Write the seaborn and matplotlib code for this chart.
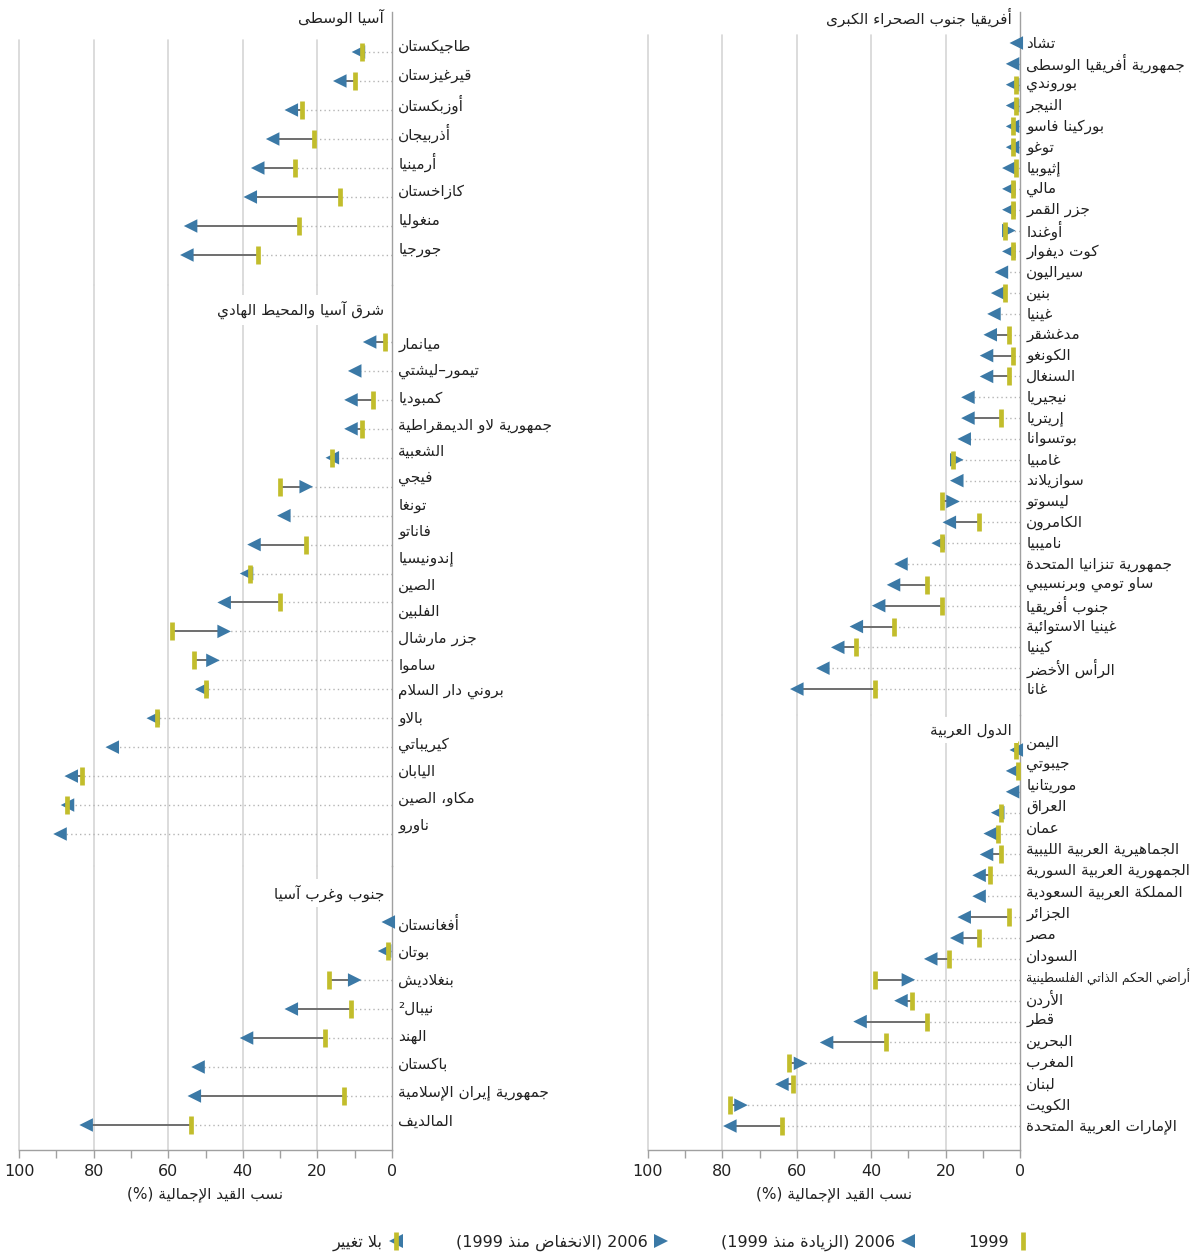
import re
import numpy as np
import pandas as pd
import matplotlib
matplotlib.use("Agg")
import matplotlib.pyplot as plt
import seaborn as sns
from matplotlib.lines import Line2D
from matplotlib.legend_handler import HandlerTuple
from matplotlib.transforms import blended_transform_factory

# ---------------------------------------------------------------- data
ca_names = ["طاجيكستان", "قيرغيزستان", "أوزبكستان", "أذربيجان", "أرمينيا",
            "كازاخستان", "منغوليا", "جورجيا"]
ca_1999 = [8, 10, 24, 21, 26, 14, 25, 36]
ca_2006 = [9, 14, 27, 32, 36, 38, 54, 55]

ea_names = ["ميانمار", "تيمور–ليشتي", "كمبوديا",
            "جمهورية لاو الديمقراطية\nالشعبية", "فيجي", "تونغا", "فاناتو",
            "إندونيسيا", "الصين", "الفلبين", "جزر مارشال", "ساموا",
            "بروني دار السلام", "بالاو", "كيريباتي", "اليابان", "مكاو، الصين",
            "ناورو"]
ea_1999 = [2, None, 5, 8, 16, 30, None, 23, 38, 30, 59, 53, 50, 63, None, 83, 87, None]
ea_2006 = [6, 10, 11, 11, 16, 23, 29, 37, 39, 45, 45, 48, 51, 64, 75, 86, 87, 89]

sa_names = ["أفغانستان", "بوتان", "بنغلاديش", "نيبال²", "الهند", "باكستان",
            "جمهورية إيران الإسلامية", "المالديف"]
sa_1999 = [None, 1, 17, 11, 18, None, 13, 54]
sa_2006 = [1, 2, 10, 27, 39, 52, 53, 82]

af_names = ["تشاد", "جمهورية أفريقيا الوسطى", "بوروندي", "النيجر", "بوركينا فاسو",
            "توغو", "إثيوبيا", "مالي", "جزر القمر", "أوغندا", "كوت ديفوار",
            "سيراليون", "بنين", "غينيا", "مدغشقر", "الكونغو", "السنغال",
            "نيجيريا", "إريتريا", "بوتسوانا", "غامبيا", "سوازيلاند", "ليسوتو",
            "الكامرون", "ناميبيا", "جمهورية تنزانيا المتحدة", "ساو تومي وبرنسيبي",
            "جنوب أفريقيا", "غينيا الاستوائية", "كينيا", "الرأس الأخضر", "غانا"]
af_1999 = [None, None, 1, 1, 2, 2, 1, 2, 2, 4, 2, None, 4, None, 3, 2, 3,
           None, 5, None, 18, None, 21, 11, 21, None, 25, 21, 34, 44, None, 39]
af_2006 = [1, 2, 2, 2, 2, 2, 3, 3, 3, 3, 3, 5, 6, 7, 8, 9, 9,
           14, 14, 15, 17, 17, 18, 19, 22, 32, 34, 38, 44, 49, 53, 60]

as_names = ["اليمن", "جيبوتي", "موريتانيا", "العراق", "عمان",
            "الجماهيرية العربية الليبية", "الجمهورية العربية السورية",
            "المملكة العربية السعودية", "الجزائر", "مصر", "السودان",
            "أراضي الحكم الذاتي الفلسطينية", "الأردن", "قطر", "البحرين",
            "المغرب", "لبنان", "الكويت", "الإمارات العربية المتحدة"]
as_1999 = [1, 0.5, None, 5, 6, 5, 8, None, 3, 11, 19, 39, 29, 25, 36, 62, 61, 78, 64]
as_2006 = [1, 2, 2, 6, 8, 9, 11, 11, 15, 17, 24, 30, 32, 43, 52, 59, 64, 75, 78]

region_titles = {
    "ca": "آسيا الوسطى",
    "ea": "شرق آسيا والمحيط الهادي",
    "sa": "جنوب وغرب آسيا",
    "af": "أفريقيا جنوب الصحراء الكبرى",
    "as": "الدول العربية",
}
x_label = "نسب القيد الإجمالية (%)"
legend_labels = ["1999", "2006 (الزيادة منذ 1999)", "2006 (الانخفاض منذ 1999)", "بلا تغيير"]
major_ticks = [0, 20, 40, 60, 80, 100]
minor_ticks = [10, 30, 50, 70, 90]

# ------------------------------------------------- Arabic text shaping
_FORMS = {
    "ء": (0xFE80, 1), "آ": (0xFE81, 2), "أ": (0xFE83, 2), "ؤ": (0xFE85, 2),
    "إ": (0xFE87, 2), "ئ": (0xFE89, 4), "ا": (0xFE8D, 2), "ب": (0xFE8F, 4),
    "ة": (0xFE93, 2), "ت": (0xFE95, 4), "ث": (0xFE99, 4), "ج": (0xFE9D, 4),
    "ح": (0xFEA1, 4), "خ": (0xFEA5, 4), "د": (0xFEA9, 2), "ذ": (0xFEAB, 2),
    "ر": (0xFEAD, 2), "ز": (0xFEAF, 2), "س": (0xFEB1, 4), "ش": (0xFEB5, 4),
    "ص": (0xFEB9, 4), "ض": (0xFEBD, 4), "ط": (0xFEC1, 4), "ظ": (0xFEC5, 4),
    "ع": (0xFEC9, 4), "غ": (0xFECD, 4), "ف": (0xFED1, 4), "ق": (0xFED5, 4),
    "ك": (0xFED9, 4), "ل": (0xFEDD, 4), "م": (0xFEE1, 4), "ن": (0xFEE5, 4),
    "ه": (0xFEE9, 4), "و": (0xFEED, 2), "ى": (0xFEEF, 2), "ي": (0xFEF1, 4),
}
_LAM_ALEF = {"آ": 0xFEF5, "أ": 0xFEF7, "إ": 0xFEF9, "ا": 0xFEFB}
_MIRROR = {"(": ")", ")": "("}


def _shape(s):
    items, i = [], 0
    while i < len(s):
        if s[i] == "ل" and i + 1 < len(s) and s[i + 1] in _LAM_ALEF:
            items.append(("lig", s[i + 1]))
            i += 2
        else:
            items.append(("ch", s[i]))
            i += 1

    def dual(it):
        return it[0] == "ch" and it[1] in _FORMS and _FORMS[it[1]][1] == 4

    def joins(it):
        return it[0] == "lig" or (it[1] in _FORMS and _FORMS[it[1]][1] > 1)

    out = []
    for j, it in enumerate(items):
        pj = j > 0 and dual(items[j - 1]) and joins(it)
        nj = dual(it) and j + 1 < len(items) and joins(items[j + 1])
        if it[0] == "lig":
            out.append(chr(_LAM_ALEF[it[1]] + int(pj)))
            continue
        c = it[1]
        if c not in _FORMS:
            out.append(c)
            continue
        base, n = _FORMS[c]
        if n == 1:
            out.append(chr(base))
        elif n == 2:
            out.append(chr(base + int(pj)))
        else:
            out.append(chr(base + (3 if pj and nj else 1 if pj else 2 if nj else 0)))
    return "".join(out)


def ar(s):
    """Shape Arabic letters and put the line in right-to-left visual order."""
    tokens = re.findall(r"[0-9²]+|.", _shape(s))
    return "".join(_MIRROR.get(t, t) for t in reversed(tokens))


# ---------------------------------------------------------------- style
sns.set_theme(style="white")
plt.rcParams["font.family"] = ["DejaVu Sans"]

BLUE = "#3b79a6"
YELLOW = "#c2bd2c"
GRID = "#d6d6d6"
AXIS = "#a0a0a0"
LINK = "#6e6e6e"
DOT = "#b4b4b4"
TEXT = "#222222"
LABEL_SIZE = 11.0

W, H = 1195, 1260
fig = plt.figure(figsize=(W / 100, H / 100), dpi=100)
name_texts = []


def add_panel(spec):
    x0, x1 = spec["x"]
    y0, y1 = spec["y"]
    ax = fig.add_axes([x0 / W, 1 - y1 / H, (x1 - x0) / W, (y1 - y0) / H])
    first, sp = spec["first"], spec["step"]
    ax.set_xlim(100, 0)
    ax.set_ylim((y1 - first) / sp, -(first - y0) / sp)
    ax.set_facecolor("none")
    for side in ("left", "top", "bottom"):
        ax.spines[side].set_visible(False)
    ax.spines["right"].set_visible(True)
    ax.spines["right"].set_color(AXIS)
    ax.spines["right"].set_linewidth(1.0)
    ax.set_yticks([])
    ax.set_xticks([])
    grid_top = (y1 - spec.get("grid_from", y0)) / (y1 - y0)
    for g in major_ticks[1:]:
        ax.axvline(g, ymin=0, ymax=grid_top, color=GRID, lw=1.2, zorder=0, clip_on=False)
    return ax


def draw_panel(spec, names, v99, v06, title):
    ax = add_panel(spec)
    first, sp = spec["first"], spec["step"]
    df = pd.DataFrame({"row": np.arange(len(names)),
                       "y1999": pd.array(v99, dtype="Float64").astype(float),
                       "y2006": np.asarray(v06, dtype=float)})
    df["dir"] = np.where(df["y2006"] < df["y1999"], "down", "up")

    for _, r in df.iterrows():
        near = np.nanmin([r["y1999"], r["y2006"]])
        ax.plot([0, near], [r["row"], r["row"]], color=DOT, lw=1.0,
                ls=(0, (1, 2.2)), zorder=1, solid_capstyle="butt")
        if not np.isnan(r["y1999"]):
            ax.plot([r["y1999"], r["y2006"]], [r["row"], r["row"]],
                    color=LINK, lw=1.4, zorder=2)

    sns.scatterplot(data=df, x="y2006", y="row", style="dir",
                    markers={"up": "<", "down": ">"}, color=BLUE, s=95,
                    linewidth=0, legend=False, ax=ax, zorder=3, clip_on=False)
    ax.plot(df["y1999"], df["row"], ls="none", marker="|", ms=12.5, mew=3.4,
            color=YELLOW, zorder=4, clip_on=False)
    ax.set_xlabel("")
    ax.set_ylabel("")

    # country names to the right of the zero line
    tr = blended_transform_factory(ax.transAxes, ax.transData)
    lines = [ln for nm in names for ln in nm.split("\n")]
    for i, ln in enumerate(lines):
        y = (spec["lab_first"] + i * spec["lab_step"] - first) / sp
        t = ax.text(1.017, y, ar(ln), transform=tr, ha="left", va="center",
                    fontsize=LABEL_SIZE, color=TEXT, clip_on=False)
        name_texts.append(t)

    ax.text(1 - 8 / (spec["x"][1] - spec["x"][0]), (spec["title"] - first) / sp,
            ar(title), transform=tr, ha="right", va="center", fontsize=LABEL_SIZE,
            color=TEXT, zorder=5,
            bbox=dict(facecolor="white", edgecolor="none", pad=4))
    return ax


def finish_bottom(ax):
    ax.spines["bottom"].set_visible(True)
    ax.spines["bottom"].set_color(AXIS)
    ax.spines["bottom"].set_linewidth(1.0)
    ax.set_xticks(major_ticks)
    ax.set_xticks(minor_ticks, minor=True)
    ax.set_xticklabels([str(t) for t in major_ticks], fontsize=11.5, color=TEXT)
    ax.tick_params(axis="x", which="both", direction="out", length=6,
                   width=1.0, color=AXIS, bottom=True, pad=4)
    ax.set_xlabel(ar(x_label), fontsize=LABEL_SIZE, color=TEXT, labelpad=5)
    ax.xaxis.label.set_visible(True)


LEFT = (19, 392)
RIGHT = (648, 1020)
specs = {
    "ca": dict(x=LEFT, y=(12, 285), first=52, step=29.0, grid_from=40,
               lab_first=46, lab_step=29.14, title=17),
    "ea": dict(x=LEFT, y=(285, 866), first=342, step=28.94,
               lab_first=345, lab_step=26.67, title=310),
    "sa": dict(x=LEFT, y=(866, 1150), first=922, step=29.0,
               lab_first=924, lab_step=28.14, title=893),
    "af": dict(x=RIGHT, y=(12, 715), first=43, step=20.84, grid_from=35,
               lab_first=43, lab_step=20.84, title=17),
    "as": dict(x=RIGHT, y=(715, 1150), first=750, step=20.89,
               lab_first=743, lab_step=21.3, title=730),
}

draw_panel(specs["ca"], ca_names, ca_1999, ca_2006, region_titles["ca"])
draw_panel(specs["ea"], ea_names, ea_1999, ea_2006, region_titles["ea"])
ax_sa = draw_panel(specs["sa"], sa_names, sa_1999, sa_2006, region_titles["sa"])
draw_panel(specs["af"], af_names, af_1999, af_2006, region_titles["af"])
ax_as = draw_panel(specs["as"], as_names, as_1999, as_2006, region_titles["as"])
finish_bottom(ax_sa)
finish_bottom(ax_as)

# ---------------------------------------------------------------- legend
h_bar = Line2D([], [], ls="none", marker="|", ms=13, mew=3.4, color=YELLOW)
h_up = Line2D([], [], ls="none", marker="<", ms=9.5, mew=0, color=BLUE)
h_down = Line2D([], [], ls="none", marker=">", ms=9.5, mew=0, color=BLUE)
leg = fig.legend([(h_up, h_bar), h_down, h_up, h_bar],
                 [ar(legend_labels[3]), ar(legend_labels[2]),
                  ar(legend_labels[1]), legend_labels[0]],
                 handler_map={tuple: HandlerTuple(ndivide=1)},
                 ncol=4, markerfirst=False, frameon=False, loc="center",
                 bbox_to_anchor=(681 / W, 1 - 1243 / H), handlelength=0.9,
                 handletextpad=0.4, columnspacing=3.3,
                 prop=dict(size=11.5))
for t in leg.get_texts():
    t.set_color(TEXT)

# keep long names inside the figure's right edge
renderer = fig.canvas.get_renderer()
for t in name_texts:
    bb = t.get_window_extent(renderer)
    room = W - 4 - bb.x0
    if bb.x1 > W - 4:
        t.set_fontsize(LABEL_SIZE * room / bb.width)

fig.savefig("out.png", dpi=100)
